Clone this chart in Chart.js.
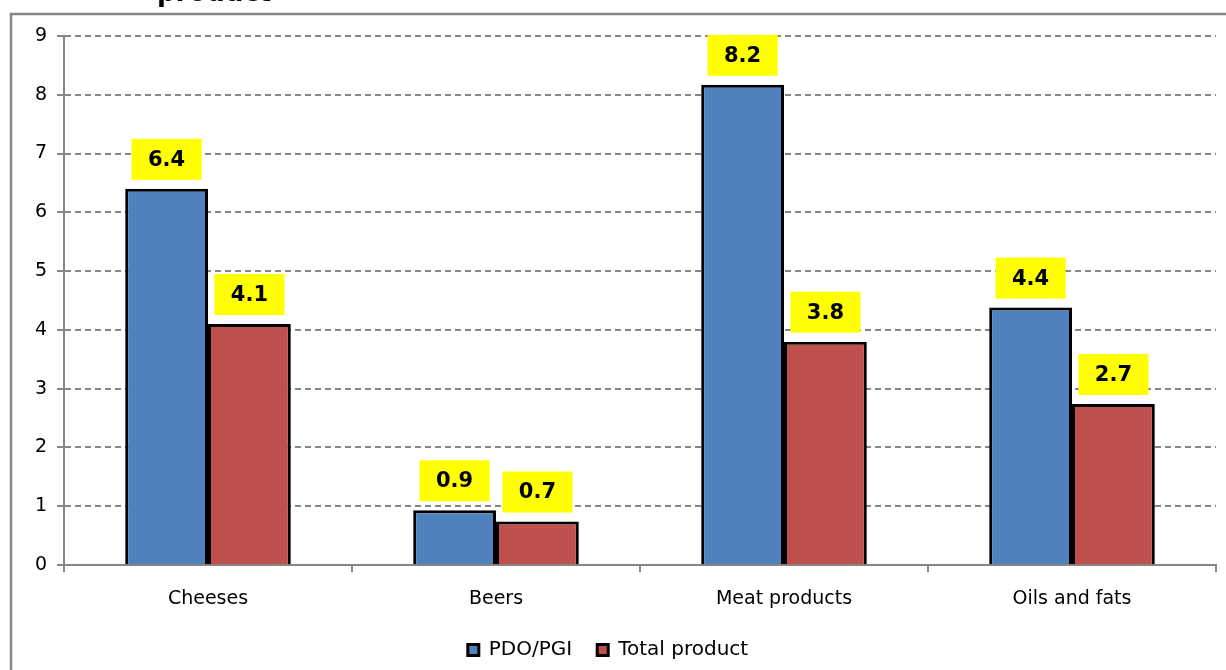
<!DOCTYPE html>
<html>
<head>
<meta charset="utf-8">
<script src="https://cdn.jsdelivr.net/npm/chart.js@4/dist/chart.umd.min.js"></script>
<style>
  html, body { margin: 0; padding: 0; background: #fff; }
  #wrap { width: 1226px; height: 670px; }
</style>
</head>
<body>
<div id="wrap"><canvas id="chart" width="1226" height="670"></canvas></div>
<script>
// data
const categories = ['Cheeses', 'Beers', 'Meat products', 'Oils and fats'];
const pdoPgi = [6.4, 0.93, 8.17, 4.38];
const totalProduct = [4.1, 0.74, 3.8, 2.74];
const yTicks = [0, 1, 2, 3, 4, 5, 6, 7, 8, 9];

const FONT = 'DejaVu Sans, Verdana, sans-serif';
const GREY = '#868686';

// frame + cut-off title at the top
const framePlugin = {
  id: 'frame',
  beforeDraw(chart) {
    const ctx = chart.ctx;
    ctx.save();
    ctx.fillStyle = '#fff';
    ctx.fillRect(0, 0, chart.width, chart.height);
    ctx.strokeStyle = GREY;
    ctx.lineWidth = 2.5;
    ctx.strokeRect(11, 14, chart.width + 20, chart.height + 20);
    ctx.fillStyle = '#000';
    ctx.font = 'bold 26px ' + FONT;
    ctx.textBaseline = 'alphabetic';
    ctx.fillText('product', 157, 1);
    ctx.restore();
  }
};

// yellow value boxes above the bars
const valueBoxes = {
  id: 'valueBoxes',
  afterDatasetsDraw(chart) {
    const ctx = chart.ctx;
    ctx.save();
    ctx.font = 'bold 21px ' + FONT;
    ctx.textAlign = 'center';
    ctx.textBaseline = 'middle';
    chart.data.datasets.forEach((ds, i) => {
      chart.getDatasetMeta(i).data.forEach((bar, j) => {
        const w = 70, h = 41;
        const bottom = bar.y - 9;
        ctx.fillStyle = '#ffff00';
        ctx.fillRect(bar.x - w / 2, bottom - h, w, h);
        ctx.fillStyle = '#000';
        ctx.fillText(ds.data[j].toFixed(1), bar.x, bottom - h / 2 + 1);
      });
    });
    ctx.restore();
  }
};

new Chart(document.getElementById('chart'), {
  type: 'bar',
  data: {
    labels: categories,
    datasets: [
      {
        label: 'PDO/PGI',
        data: pdoPgi,
        backgroundColor: '#4F81BD',
        borderColor: '#000',
        borderWidth: 3,
        borderSkipped: 'bottom'
      },
      {
        label: 'Total product',
        data: totalProduct,
        backgroundColor: '#C0504D',
        borderColor: '#000',
        borderWidth: 3,
        borderSkipped: 'bottom'
      }
    ]
  },
  options: {
    responsive: false,
    animation: false,
    datasets: { bar: { barPercentage: 1, categoryPercentage: 0.575 } },
    layout: { padding: { left: 0, right: 10, top: 36, bottom: 0 } },
    scales: {
      x: {
        grid: { display: true, drawOnChartArea: false, tickLength: 7, color: GREY, lineWidth: 2 },
        border: { color: GREY, width: 2 },
        ticks: { color: '#000', font: { family: FONT, size: 19 }, padding: 16 },
        afterFit(s) { s.height = 50; }
      },
      y: {
        min: 0,
        max: 9,
        afterBuildTicks(s) { s.ticks = yTicks.map(v => ({ value: v })); },
        grid: { color: GREY, lineWidth: 2, tickLength: 7, tickColor: GREY, tickWidth: 2 },
        border: { color: GREY, width: 2, dash: [6, 4] },
        ticks: { color: '#000', font: { family: FONT, size: 19 }, padding: 10 },
        afterFit(s) { s.width = 64; }
      }
    },
    plugins: {
      legend: {
        position: 'bottom',
        labels: {
          color: '#000',
          font: { family: FONT, size: 20 },
          boxWidth: 11,
          boxHeight: 11,
          padding: 25
        }
      },
      tooltip: { enabled: false }
    }
  },
  plugins: [framePlugin, valueBoxes]
});
</script>
</body>
</html>
